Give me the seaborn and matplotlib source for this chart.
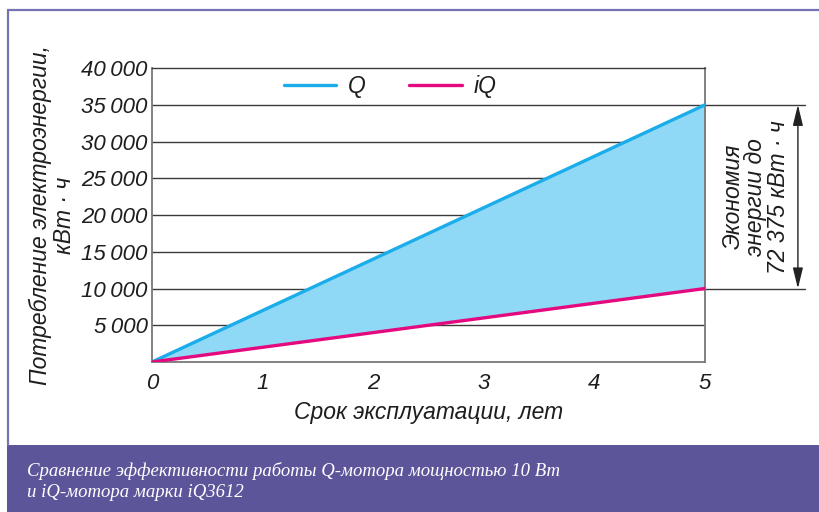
import matplotlib
matplotlib.use("Agg")
import matplotlib.pyplot as plt
import seaborn as sns
import pandas as pd
from matplotlib.lines import Line2D
from matplotlib.patches import Rectangle

# data
years = [0, 5]
q_kwh = [0, 35000]
iq_kwh = [0, 10000]
y_ticks = [5000, 10000, 15000, 20000, 25000, 30000, 35000, 40000]
x_ticks = [0, 1, 2, 3, 4, 5]

df = pd.DataFrame({"year": years, "Q": q_kwh, "iQ": iq_kwh})

sns.set_style("white")
plt.rcParams['font.family'] = ['Liberation Sans', 'DejaVu Sans']

c_q = '#1badea'
c_iq = '#e5097f'
c_fill = '#8fd8f6'
c_grid = '#3a3a3a'
c_text = '#1e1e1e'

fig = plt.figure(figsize=(8.19, 5.12), dpi=100)
fig.patch.set_facecolor('white')
ax = fig.add_axes([0.1856, 0.293, 0.6752, 0.574])

# grid lines first
for v in y_ticks[:-1]:
    ax.axhline(v, color=c_grid, lw=1.0, zorder=1)

ax.fill_between(df["year"], df["iQ"], df["Q"], color=c_fill, lw=0, zorder=2)
sns.lineplot(data=df, x="year", y="Q", color=c_q, lw=2.4, ax=ax, label="Q", zorder=3)
sns.lineplot(data=df, x="year", y="iQ", color=c_iq, lw=2.4, ax=ax, label="iQ", zorder=3)

ax.set_xlim(0, 5)
ax.set_ylim(0, 40000)
ax.set_xticks(x_ticks)
ax.set_yticks(y_ticks)
ax.set_xticklabels([str(x) for x in x_ticks], fontsize=16, style='italic', color=c_text)
ax.set_yticklabels([f"{v:,}".replace(",", "\u2009") for v in y_ticks], fontsize=16,
                   style='italic', color=c_text)
ax.tick_params(axis='both', direction='in', length=5, width=1, color='#777777', pad=3)
ax.tick_params(axis='x', pad=8)

for side in ['left', 'bottom', 'right']:
    ax.spines[side].set_color('#777777')
    ax.spines[side].set_linewidth(1.3)
ax.spines['top'].set_color(c_grid)
ax.spines['top'].set_linewidth(1.0)

ax.set_xlabel("Срок эксплуатации, лет", fontsize=16.5, style='italic', color=c_text, labelpad=5)
ax.set_ylabel("Потребление электроэнергии,\nкВт · ч", fontsize=16.5, style='italic',
              color=c_text, labelpad=4, linespacing=1.05)

leg = ax.legend(loc='center', bbox_to_anchor=(0.43, 0.937), ncol=2, frameon=False,
                handlelength=2.3, columnspacing=1.9, handletextpad=0.5,
                prop={'style': 'italic', 'size': 16.5})
for t in leg.get_texts():
    t.set_color(c_text)

# extended lines and double arrow for savings annotation
ax.plot([5, 5.9], [35000, 35000], color=c_grid, lw=1.0, clip_on=False)
ax.plot([5, 5.9], [10000, 10000], color=c_grid, lw=1.0, clip_on=False)
ax.annotate('', xy=(5.84, 35000), xytext=(5.84, 10000),
            arrowprops=dict(arrowstyle='<|-|>,head_length=0.9,head_width=0.22',
                            color='#222222', lw=1.0, mutation_scale=14,
                            shrinkA=0, shrinkB=0),
            annotation_clip=False)
ax.text(5.46, 22500, "Экономия\nэнергии до\n72 375 кВт · ч", rotation=90,
        ha='center', va='center', fontsize=16.5, style='italic', color=c_text,
        linespacing=1.0, clip_on=False)

# frame and caption band
fig.add_artist(Line2D([0.0098, 1.0], [0.980, 0.980], color='#7474b4', lw=1.6))
fig.add_artist(Line2D([0.0098, 0.0098], [0.131, 0.980], color='#7474b4', lw=1.6))
fig.add_artist(Rectangle((0.008, 0), 0.992, 0.131, color='#5c559a', lw=0))
fig.text(0.033, 0.060, "Сравнение эффективности работы Q-мотора мощностью 10 Вт\n"
         "и iQ-мотора марки iQ3612", color='white', fontsize=13.5, style='italic',
         family=['Liberation Serif', 'DejaVu Serif'], va='center', ha='left',
         linespacing=1.35)

fig.savefig("out.png", dpi=100)
